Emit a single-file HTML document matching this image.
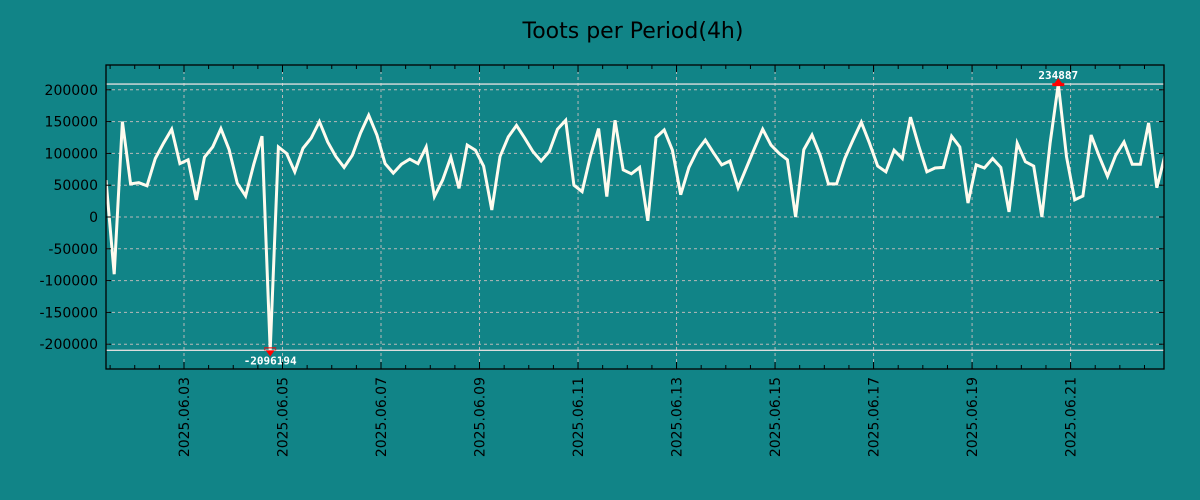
<!DOCTYPE html>
<html><head><meta charset="utf-8"><style>
html,body{margin:0;padding:0;background:#118487;}
svg{display:block;font-family:"DejaVu Sans","Liberation Sans",sans-serif;}
</style></head><body>
<svg id="chart" width="1200" height="500" xmlns="http://www.w3.org/2000/svg">
<rect x="0" y="0" width="1200" height="500" fill="#118487"/>
<text x="633" y="38" text-anchor="middle" font-size="22" fill="#000">Toots per Period(4h)</text>
<g id="grid"></g><g id="lines"></g><g id="axes"></g>
</svg>
<script>
const values=[58000,-90000,150000,52000,54000,49000,92000,116000,138000,84000,
90000,27000,94000,110000,139000,106000,53000,33000,83000,127000,
-209619,110000,100000,71000,108000,124000,150000,118000,95000,78000,
97000,132000,160000,129000,84000,69000,83000,91000,84000,110000,
32000,58000,94000,45000,113000,105000,80000,11000,95000,126000,
144000,124000,103000,88000,103000,138000,152000,50000,40000,95000,
139000,32000,152000,74000,68000,78000,-6000,125000,137000,105000,
35000,78000,104000,121000,101000,82000,88000,46000,77000,108000,
138000,113000,100000,90000,0,106000,129000,97000,52000,52000,
92000,121000,149000,116000,80000,71000,105000,92000,157000,112000,
71000,77000,78000,127000,110000,22000,82000,77000,92000,78000,
8000,116000,87000,80000,0,116000,209000,95000,27000,33000,
129000,95000,64000,97000,118000,83000,83000,148000,46000,97000];
const yTicks=[-200000,-150000,-100000,-50000,0,50000,100000,150000,200000];
const xTickDates=["2025-06-03","2025-06-05","2025-06-07","2025-06-09","2025-06-11","2025-06-13","2025-06-15","2025-06-17","2025-06-19","2025-06-21"];
const maxLabel="234887";
const minLabel="-2096194";
const startTime=Date.UTC(2025,5,1,10,0);
const stepH=4;

const L=106,R=1164,T=65,B=369,YMIN=-239000,YMAX=239000;
const tEnd=startTime+(values.length-1)*stepH*3600e3;
const sx=t=>L+(t-startTime)/(tEnd-startTime)*(1165-L);
const sy=v=>B-(v-YMIN)/(YMAX-YMIN)*(B-T);
const NS="http://www.w3.org/2000/svg";
function mk(tag,parent,attrs){const e=document.createElementNS(NS,tag);for(const k in attrs)e.setAttribute(k,attrs[k]);parent.appendChild(e);return e;}
const grid=document.getElementById('grid'),lines=document.getElementById('lines'),axes=document.getElementById('axes');

yTicks.forEach(v=>{
  const y=sy(v);
  const g=mk('line',grid,{x1:L,x2:R,y1:y,y2:y,stroke:'#b9b9b9','stroke-width':1,'stroke-dasharray':'3,3'});
  
  
  const t=mk('text',axes,{x:L-8,y:y+5,'text-anchor':'end','font-size':14,fill:'#000'});
  t.textContent=String(v);
  
  
  [[L,L+5],[R-5,R]].forEach(p=>{const tk=mk('line',axes,{x1:p[0],x2:p[1],y1:y,y2:y,stroke:'#000'});
  
  });
});
// minor ticks every 12h
for(let t=Date.UTC(2025,5,1,12);t<=tEnd;t+=12*3600e3){
  const x=sx(t); if(x<L||x>R) continue;
  [[T,T+4],[B-4,B]].forEach(p=>{const tk=mk('line',axes,{x1:x,x2:x,y1:p[0],y2:p[1],stroke:'#000'});
  
  });
}
xTickDates.forEach(d=>{
  const p=d.split('-').map(Number);const x=sx(Date.UTC(p[0],p[1]-1,p[2]));
  const g=mk('line',grid,{x1:x,x2:x,y1:T,y2:B,stroke:'#b9b9b9','stroke-width':1,'stroke-dasharray':'3,3'});
  
  
  [[T,T+7],[B-7,B]].forEach(q=>{const tk=mk('line',axes,{x1:x,x2:x,y1:q[0],y2:q[1],stroke:'#000'});
  
  });
  const t=mk('text',axes,{x:0,y:0,'text-anchor':'end','font-size':14,fill:'#000',transform:`translate(${x+5},${B+8}) rotate(-90)`});
  t.textContent=d.replace(/-/g,'.');
  
  
});
const vmax=Math.max(...values),vmin=Math.min(...values);
const imax=values.indexOf(vmax),imin=values.indexOf(vmin);
[vmax,vmin].forEach(v=>{const h=mk('line',lines,{x1:L,x2:R,y1:sy(v),y2:sy(v),stroke:'#dddddd','stroke-width':1.3});

});
const cp=mk('clipPath',lines,{id:'clip'});mk('rect',cp,{x:L,y:T,width:R-L,height:B-T});
const pts=values.map((v,i)=>sx(startTime+i*stepH*3600e3).toFixed(1)+','+sy(v).toFixed(1)).join(' ');
const pl=mk('polyline',lines,{points:pts,fill:'none',stroke:'#fffbee','stroke-width':3,'stroke-linejoin':'miter','clip-path':'url(#clip)'});


const xm=sx(startTime+imax*stepH*3600e3),ym=sy(vmax);
const m1=mk('path',lines,{d:`M${xm-6},${ym+2}L${xm},${ym-6}L${xm+6},${ym+2}Z M${xm-6},${ym-1}h12v3h-12Z`,fill:'#ff0000'});


const t1=mk('text',lines,{x:xm,y:ym-5,'text-anchor':'middle','font-size':11,'font-weight':'bold',fill:'#fff','font-family':'"DejaVu Sans Mono",monospace'});
t1.textContent=maxLabel;


const xn=sx(startTime+imin*stepH*3600e3),yn=sy(vmin);
const m2=mk('path',lines,{d:`M${xn-6},${yn-2}L${xn},${yn+6}L${xn+6},${yn-2}Z M${xn-6},${yn-3}h12v3h-12Z`,fill:'#ff0000'});


const t2=mk('text',lines,{x:xn,y:yn+14,'text-anchor':'middle','font-size':11,'font-weight':'bold',fill:'#fff','font-family':'"DejaVu Sans Mono",monospace'});
t2.textContent=minLabel;


const fr=mk('rect',axes,{x:L,y:T,width:R-L,height:B-T,fill:'none',stroke:'#000','stroke-width':1.3});


</script>
</body></html>
